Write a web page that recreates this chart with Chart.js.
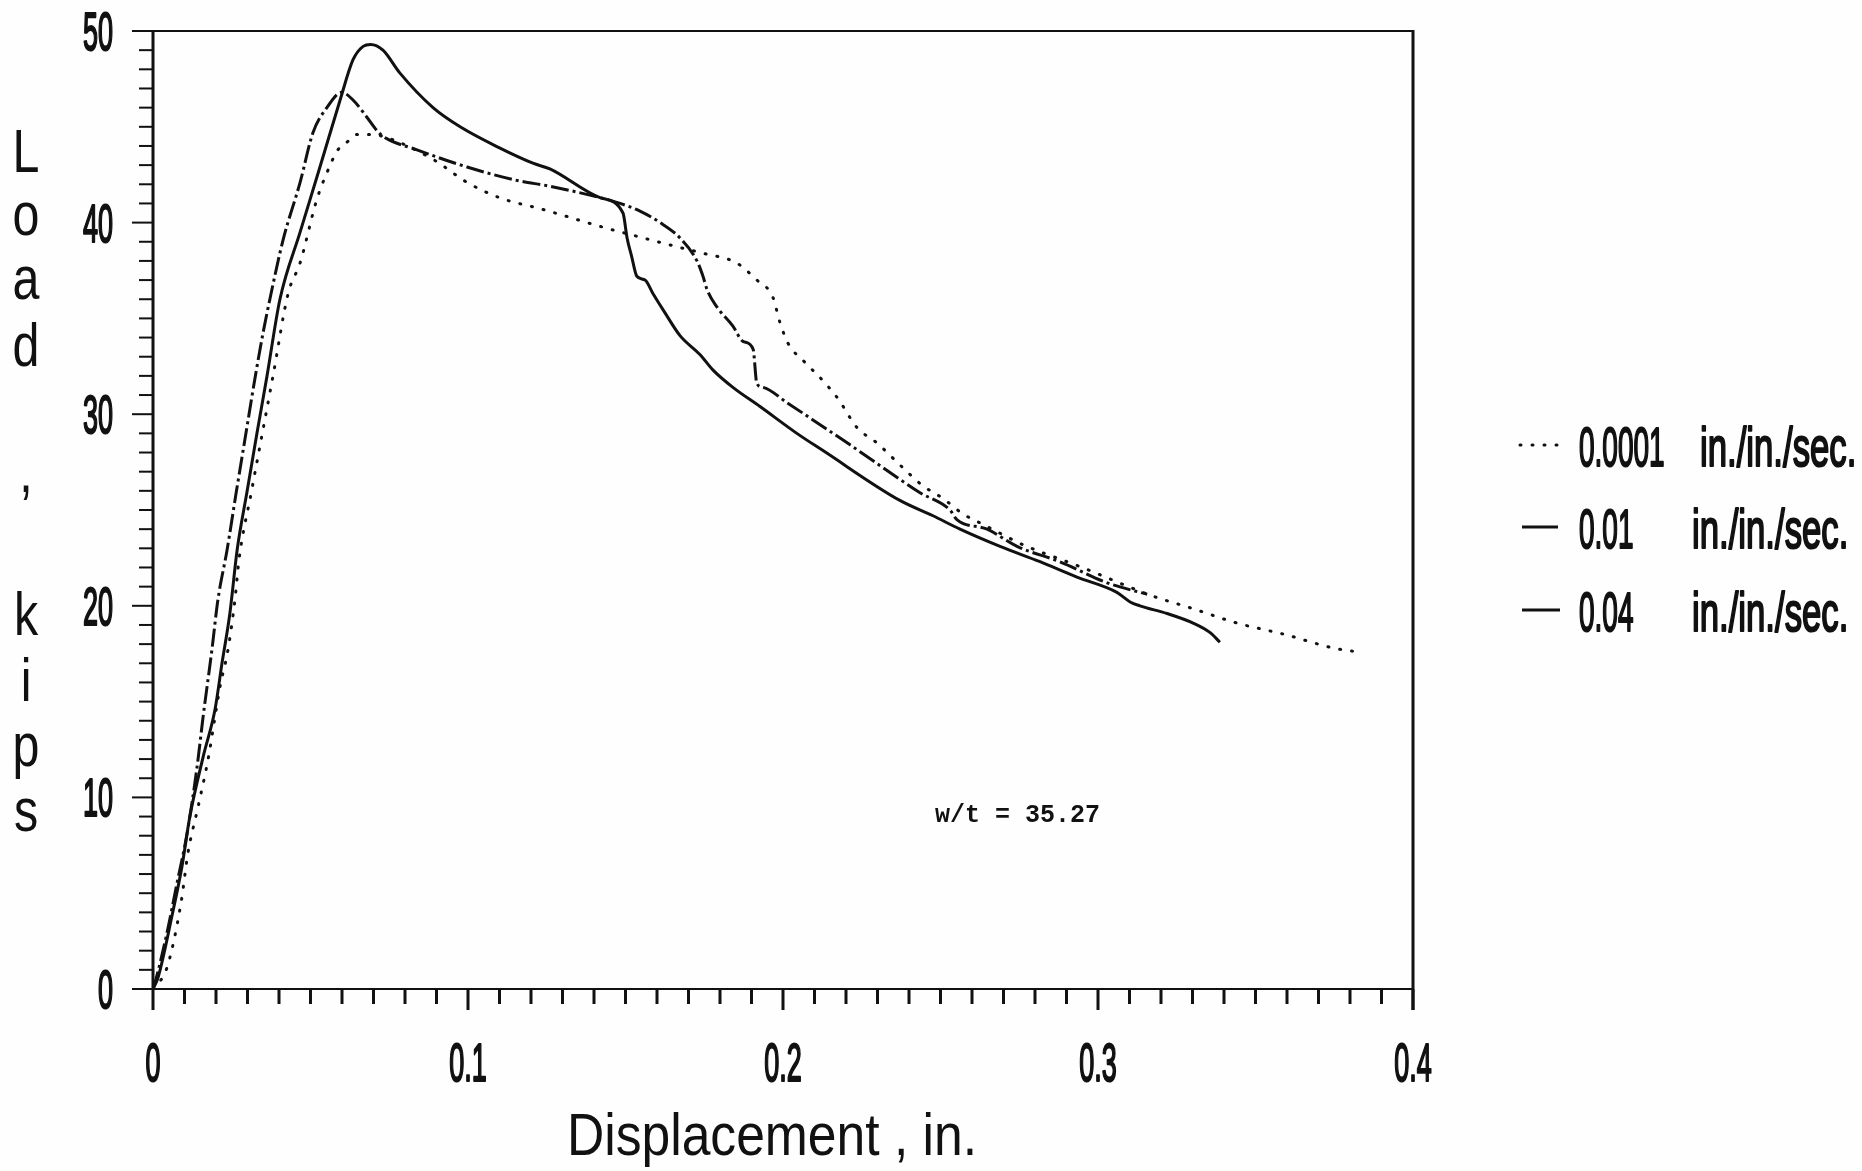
<!DOCTYPE html>
<html>
<head>
<meta charset="utf-8">
<title>Load vs Displacement</title>
<script src="https://cdn.jsdelivr.net/npm/chart.js@4.4.1/dist/chart.umd.min.js"></script>
<style>
  html, body { margin: 0; padding: 0; background: #fefefe; }
  #wrap { width: 1862px; height: 1171px; }
</style>
</head>
<body>
<div id="wrap"><canvas id="lineChart" width="1862" height="1171"></canvas></div>
<script>
"use strict";

// axes
var xTicks = [0, 0.1, 0.2, 0.3, 0.4];
var yTicks = [0, 10, 20, 30, 40, 50];
var rateLabels = ["0.0001", "0.01", "0.04"];
var rateUnit = "in./in./sec.";
var note = "w/t = 35.27";

// 0.0001 in./in./sec.  (dotted)
var slowX = [0, 0.0044, 0.0089, 0.0111, 0.0143, 0.0175, 0.0213, 0.0238, 0.026, 0.0273, 0.0313, 0.0347, 0.0381, 0.0429,
  0.0467, 0.052, 0.0552, 0.0587, 0.0616, 0.0648, 0.0689, 0.073, 0.0889, 0.0997, 0.110, 0.1235, 0.1441, 0.1556, 0.1673,
  0.1746, 0.1852, 0.1917, 0.1968, 0.1990, 0.2016, 0.207, 0.2124, 0.2175, 0.2235, 0.2298, 0.2381, 0.2441, 0.2508, 0.2571,
  0.2641, 0.2711, 0.2746, 0.295, 0.3175, 0.3292, 0.3441, 0.3594, 0.3746, 0.3822];
var slowY = [0, 1.1, 4.5, 7.1, 9.5, 12.0, 15.8, 17.7, 20.3, 22.4, 26, 29, 32, 36.3,
  37.9, 41.2, 42.6, 43.8, 44.2, 44.6, 44.6, 44.5, 43.3, 42.1, 41.3, 40.7, 39.7, 39.2, 38.7,
  38.4, 37.9, 37.0, 36.1, 34.8, 33.7, 32.7, 31.8, 30.8, 29.3, 28.5, 27.2, 26.3, 25.6, 24.8,
  24.2, 23.6, 23.3, 22.0, 20.5, 19.9, 19.1, 18.5, 17.8, 17.6];

// 0.01 in./in./sec.  (dash-dot)
var midX = [0, 0.0006, 0.0044, 0.0076, 0.0108, 0.014, 0.0159, 0.0187, 0.0206, 0.0235, 0.0265, 0.0295, 0.0325, 0.035,
  0.0371, 0.0413, 0.0467, 0.0508, 0.0552, 0.0599, 0.0635, 0.0679, 0.0711, 0.073, 0.0838, 0.0997, 0.1156, 0.126, 0.1419,
  0.1483, 0.1546, 0.1610, 0.1673, 0.1727, 0.1746, 0.1759, 0.179, 0.1841, 0.1873, 0.1905, 0.1917, 0.1937, 0.2013, 0.2095,
  0.2213, 0.2371, 0.2435, 0.253, 0.2552, 0.2648, 0.2743, 0.2879, 0.3029, 0.3156];
var midY = [0, 0.3, 2.9, 5.5, 8.1, 11.6, 14.2, 17.7, 20.3, 22.9, 26, 29, 32, 34.3,
  36.0, 39.1, 42.1, 44.7, 46.0, 46.8, 46.4, 45.5, 44.8, 44.5, 43.8, 42.9, 42.2, 41.9, 41.3,
  41.0, 40.6, 40.0, 39.2, 38.0, 37.2, 36.5, 35.6, 34.6, 33.8, 33.4, 31.6, 31.4, 30.6, 29.7,
  28.4, 26.6, 25.9, 25.0, 24.5, 24.0, 23.1, 22.3, 21.2, 20.6];

// 0.04 in./in./sec.  (solid)
var fastX = [0, 0.0016, 0.006, 0.0092, 0.0117, 0.0159, 0.0197, 0.0219, 0.0244, 0.0267, 0.0299, 0.033, 0.0362, 0.0403,
  0.0467, 0.053, 0.0594, 0.0635, 0.0667, 0.0691, 0.073, 0.0784, 0.0889, 0.0975, 0.110, 0.1206, 0.126, 0.1419, 0.1492,
  0.1505, 0.152, 0.1536, 0.1562, 0.1587, 0.1625, 0.1673, 0.1737, 0.1778, 0.1841, 0.1927, 0.2044, 0.2127, 0.2371, 0.2476,
  0.2562, 0.2689, 0.2816, 0.2933, 0.3060, 0.3102, 0.3133, 0.3219, 0.3302, 0.3356, 0.3387];
var fastY = [0, 0.6, 3.8, 6.4, 9.0, 12.1, 14.6, 17.0, 19.6, 22.9, 26, 29, 32, 36.0,
  39.5, 42.9, 46.4, 48.5, 49.2, 49.3, 49.0, 47.8, 46.0, 45.0, 43.9, 43.1, 42.8, 41.3, 40.5,
  39.2, 38.2, 37.2, 37.0, 36.3, 35.3, 34.1, 33.1, 32.3, 31.4, 30.4, 29.0, 28.1, 25.5, 24.7,
  24.0, 23.1, 22.3, 21.5, 20.7, 20.2, 20.0, 19.6, 19.1, 18.6, 18.1];

var ink = "#111";

function pts(xs, ys) {
  var out = [];
  for (var i = 0; i < xs.length; i++) out.push({ x: xs[i], y: ys[i] });
  return out;
}

function seg(ctx, x1, y1, x2, y2) {
  ctx.beginPath();
  ctx.moveTo(x1, y1);
  ctx.lineTo(x2, y2);
  ctx.stroke();
}

// condensed text: the original plot lettering is very narrow
// heavy > 0 thickens the strokes a little (regular is too thin, bold too heavy)
function txt(ctx, s, x, y, font, sx, align, heavy) {
  ctx.save();
  ctx.font = font + " 'Liberation Sans', Arial, sans-serif";
  ctx.textAlign = align || "left";
  ctx.textBaseline = "alphabetic";
  ctx.translate(x, y);
  ctx.scale(sx, 1);
  ctx.fillText(s, 0, 0);
  if (heavy) {
    ctx.lineWidth = heavy;
    ctx.lineJoin = "round";
    ctx.strokeText(s, 0, 0);
  }
  ctx.restore();
}

function onStep(v, step) {
  return Math.abs(v / step - Math.round(v / step)) < 1e-6;
}

var frame = {
  id: "frame",
  afterDraw: function (chart) {
    var ctx = chart.ctx;
    var xs = chart.scales.x, ys = chart.scales.y;
    var a = chart.chartArea;

    ctx.save();
    ctx.strokeStyle = ink;
    ctx.fillStyle = ink;
    ctx.lineCap = "butt";

    // box
    ctx.lineWidth = 3;
    seg(ctx, a.left, a.top - 1, a.left, a.bottom + 1);
    seg(ctx, a.right, a.top - 1, a.right, a.bottom + 21);
    ctx.lineWidth = 2;
    seg(ctx, a.left, a.top, a.right, a.top);
    seg(ctx, a.left, a.bottom, a.right, a.bottom);

    // minor + major ticks
    ctx.lineWidth = 3;
    xs.ticks.forEach(function (t) {
      var px = xs.getPixelForValue(t.value);
      seg(ctx, px, a.bottom, px, a.bottom + (onStep(t.value, 0.1) ? 21 : 15));
    });
    ctx.lineWidth = 2;
    ys.ticks.forEach(function (t) {
      var py = ys.getPixelForValue(t.value);
      seg(ctx, a.left, py, a.left - (onStep(t.value, 10) ? 21 : 14), py);
    });

    // tick labels
    xTicks.forEach(function (v) {
      txt(ctx, String(v), xs.getPixelForValue(v), 1081, "54px", 0.5, "center", 2.2);
    });
    yTicks.forEach(function (v) {
      txt(ctx, String(v), 113, ys.getPixelForValue(v) + 19, "54px", 0.5, "right", 2.2);
    });

    // axis titles
    txt(ctx, "Displacement , in.", 772, 1155, "60px", 0.86, "center");
    var letters = ["L", "o", "a", "d", ",", "k", "i", "p", "s"];
    var base = [172, 235, 299, 366, 492, 635, 701, 766, 831];
    letters.forEach(function (c, i) {
      txt(ctx, c, 26, base[i], "62px", 0.78, "center");
    });

    // note
    ctx.font = "bold 25px 'Liberation Mono', 'DejaVu Sans Mono', monospace";
    ctx.textAlign = "left";
    ctx.textBaseline = "middle";
    ctx.fillText(note, 935, 816);

    // legend
    var rowY = [445, 527, 610];
    var sample = [[1520, 1562], [1522, 1558], [1522, 1560]];
    chart.data.datasets.forEach(function (ds, i) {
      ctx.save();
      ctx.lineWidth = ds.borderWidth;
      ctx.lineCap = ds.borderCapStyle || "butt";
      ctx.setLineDash(i === 1 ? [] : (ds.borderDash || []));
      seg(ctx, sample[i][0], rowY[i], sample[i][1], rowY[i]);
      ctx.restore();
      txt(ctx, rateLabels[i], 1579, rowY[i] + 21, "56px", 0.5, "left", 2.2);
      txt(ctx, rateUnit, i === 0 ? 1700 : 1692, rowY[i] + 21, "56px", 0.62, "left", 2.2);
    });

    ctx.restore();
  }
};

var ctx = document.getElementById("lineChart");
var myChart = new Chart(ctx, {
  type: "line",
  data: {
    datasets: [
      {
        label: rateLabels[0] + " " + rateUnit,
        data: pts(slowX, slowY),
        borderColor: ink,
        borderWidth: 3,
        borderDash: [1, 11],
        borderCapStyle: "round",
        pointRadius: 0,
        cubicInterpolationMode: "monotone"
      },
      {
        label: rateLabels[1] + " " + rateUnit,
        data: pts(midX, midY),
        borderColor: ink,
        borderWidth: 3,
        borderDash: [18, 4, 3, 4],
        pointRadius: 0,
        cubicInterpolationMode: "monotone"
      },
      {
        label: rateLabels[2] + " " + rateUnit,
        data: pts(fastX, fastY),
        borderColor: ink,
        borderWidth: 3,
        pointRadius: 0,
        cubicInterpolationMode: "monotone"
      }
    ]
  },
  options: {
    responsive: false,
    devicePixelRatio: 1,
    animation: false,
    layout: { padding: { left: 153, top: 31, right: 449, bottom: 182 } },
    plugins: {
      legend: { display: false },
      tooltip: { enabled: false }
    },
    scales: {
      x: {
        type: "linear",
        display: false,
        min: xTicks[0],
        max: xTicks[xTicks.length - 1],
        ticks: { stepSize: 0.01, maxTicksLimit: 100 }
      },
      y: {
        type: "linear",
        display: false,
        min: yTicks[0],
        max: yTicks[yTicks.length - 1],
        ticks: { stepSize: 1, maxTicksLimit: 100 }
      }
    }
  },
  plugins: [frame]
});
</script>
</body>
</html>
